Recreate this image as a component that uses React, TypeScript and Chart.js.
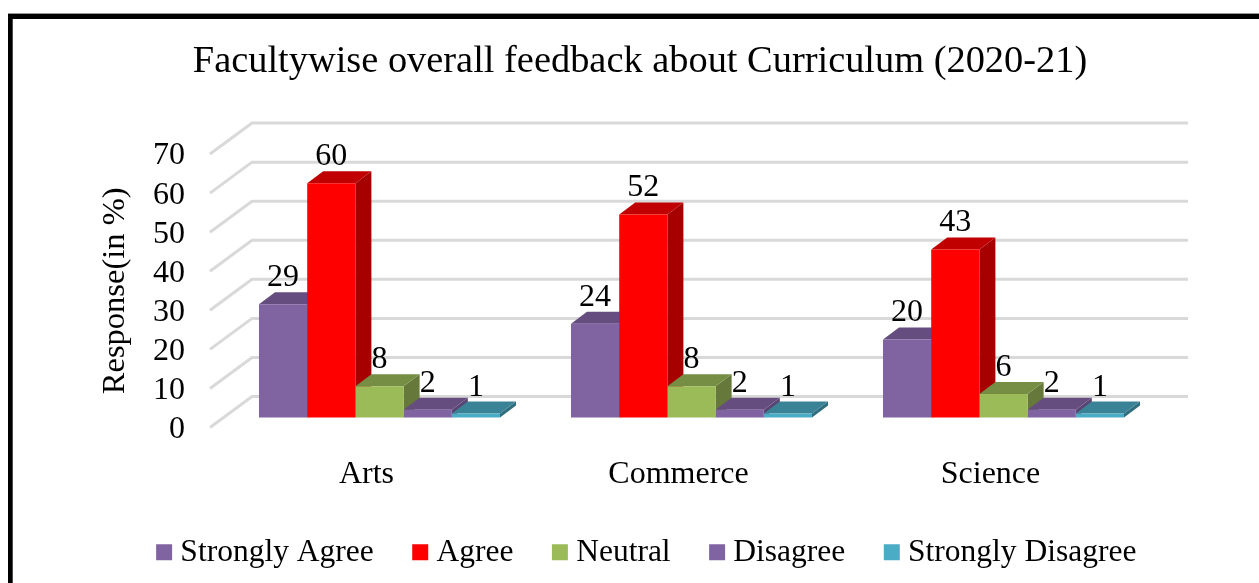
import React, { useEffect, useRef } from "react";
import { Chart, registerables } from "chart.js";

Chart.register(...registerables);

const categories = ["Arts", "Commerce", "Science"];
const stronglyAgree = [29, 24, 20];
const agree = [60, 52, 43];
const neutral = [8, 8, 6];
const disagree = [2, 2, 2];
const stronglyDisagree = [1, 1, 1];

const seriesNames = ["Strongly Agree", "Agree", "Neutral", "Disagree", "Strongly Disagree"];
const frontColors = ["#8064A2", "#FF0000", "#9BBB59", "#8064A2", "#4BACC6"];
const topColors = ["#654D80", "#C00000", "#758E44", "#654D80", "#3A8397"];
const sideColors = ["#5A4472", "#A60000", "#66793A", "#5A4472", "#2F6D7F"];

const FONT = '"Liberation Serif"';
const BAR_DX = 16;
const BAR_DY = 12;

const depthPlugin = {
  id: "depth3d",
  afterLayout(chart: any) {
    const t = chart.titleBlock;
    if (t) { t.left = 21; t.right = 1259; }
    const l = chart.legend;
    if (l) { l.left = 41; l.right = 1259; }
    chart.scales.y.bottom += 20;
  },
  beforeDraw(chart: any) {
    const ctx = chart.ctx;
    ctx.save();
    ctx.fillStyle = "#999999";
    ctx.fillRect(8, 13, 1251, 1);
    ctx.fillStyle = "#000000";
    ctx.fillRect(8, 14, 1251, 5);
    ctx.fillRect(8, 14, 4.7, 569);
    ctx.restore();
  },
  beforeDatasetsDraw(chart: any) {
    const { ctx, scales, chartArea } = chart;
    const y = scales.y;
    ctx.save();
    ctx.strokeStyle = "#D9D9D9";
    ctx.lineWidth = 3;
    for (const t of y.ticks) {
      const p = y.getPixelForValue(t.value);
      ctx.beginPath();
      ctx.moveTo(chartArea.left - 13.5, p + 10);
      ctx.lineTo(chartArea.left + 28.5, p - 21);
      ctx.lineTo(chartArea.right + 28.5, p - 21);
      ctx.stroke();
    }
    const poly = (pts: number[][], color: string) => {
      ctx.fillStyle = color;
      ctx.beginPath();
      pts.forEach((q, i) => (i ? ctx.lineTo(q[0], q[1]) : ctx.moveTo(q[0], q[1])));
      ctx.closePath();
      ctx.fill();
    };
    categories.forEach((_, j) => {
      chart.data.datasets.forEach((_d: any, i: number) => {
        const b = chart.getDatasetMeta(i).data[j];
        const x0 = b.x - b.width / 2;
        const x1 = b.x + b.width / 2;
        poly([[x1, b.y], [x1 + BAR_DX, b.y - BAR_DY], [x1 + BAR_DX, b.base - BAR_DY], [x1, b.base]], sideColors[i]);
        poly([[x0, b.y], [x0 + BAR_DX, b.y - BAR_DY], [x1 + BAR_DX, b.y - BAR_DY], [x1, b.y]], topColors[i]);
      });
    });
    ctx.restore();
  },
  afterDatasetsDraw(chart: any) {
    const ctx = chart.ctx;
    ctx.save();
    ctx.font = `32px ${FONT}`;
    ctx.fillStyle = "#000000";
    ctx.textAlign = "center";
    ctx.textBaseline = "middle";
    chart.data.datasets.forEach((d: any, i: number) => {
      chart.getDatasetMeta(i).data.forEach((b: any, j: number) => {
        ctx.fillText(String(d.data[j]), b.x, b.y - 26.5);
      });
    });
    ctx.restore();
  },
};

export default function App() {
  const ref = useRef<HTMLCanvasElement>(null);
  useEffect(() => {
    const values = [stronglyAgree, agree, neutral, disagree, stronglyDisagree];
    const chart = new Chart(ref.current as HTMLCanvasElement, {
      type: "bar",
      data: {
        labels: categories,
        datasets: seriesNames.map((label, i) => ({
          label,
          data: values[i],
          backgroundColor: frontColors[i],
          borderWidth: 0,
          categoryPercentage: 0.7725,
          barPercentage: 1,
        })),
      },
      options: {
        responsive: false,
        animation: false,
        layout: { padding: { left: 0, right: 99.5, top: 39, bottom: 5 } },
        plugins: {
          tooltip: { enabled: false },
          title: {
            display: true,
            text: "Facultywise overall feedback about Curriculum (2020-21)",
            color: "#000000",
            font: { family: FONT, size: 38.4, weight: "normal", lineHeight: 1.2 },
            padding: { top: 0, bottom: 59 },
          },
          legend: {
            position: "bottom",
            labels: {
              usePointStyle: true,
              pointStyle: "rect",
              boxWidth: 1,
              boxHeight: 16,
              padding: 46,
              color: "#000000",
              font: { family: FONT, size: 31.5 },
            },
          },
        },
        scales: {
          x: {
            grid: { display: false },
            border: { display: false },
            afterFit: (s: any) => { s.height = 73; },
            ticks: {
              color: "#000000",
              font: { family: FONT, size: 32 },
              padding: 30,
              labelOffset: -13,
              maxRotation: 0,
              autoSkip: false,
            },
          },
          y: {
            min: 0,
            max: 70,
            grid: { display: false, drawTicks: false },
            border: { display: false },
            afterFit: (s: any) => { s.width = 223.5; },
            ticks: {
              stepSize: 10,
              autoSkip: false,
              color: "#000000",
              font: { family: FONT, size: 32 },
              padding: 38.5,
              labelOffset: 12,
            },
            title: {
              display: true,
              text: "Response(in %)",
              color: "#000000",
              font: { family: FONT, size: 32.5, lineHeight: 1.2 },
              padding: { top: 96, bottom: 0 },
            },
          },
        },
      },
      plugins: [depthPlugin],
    } as any);
    return () => chart.destroy();
  }, []);
  return (
    <div style={{ position: "absolute", left: 0, top: 0, width: 1259, height: 583, overflow: "hidden" }}>
      <canvas ref={ref} width={1259} height={583} style={{ display: "block" }} />
    </div>
  );
}
